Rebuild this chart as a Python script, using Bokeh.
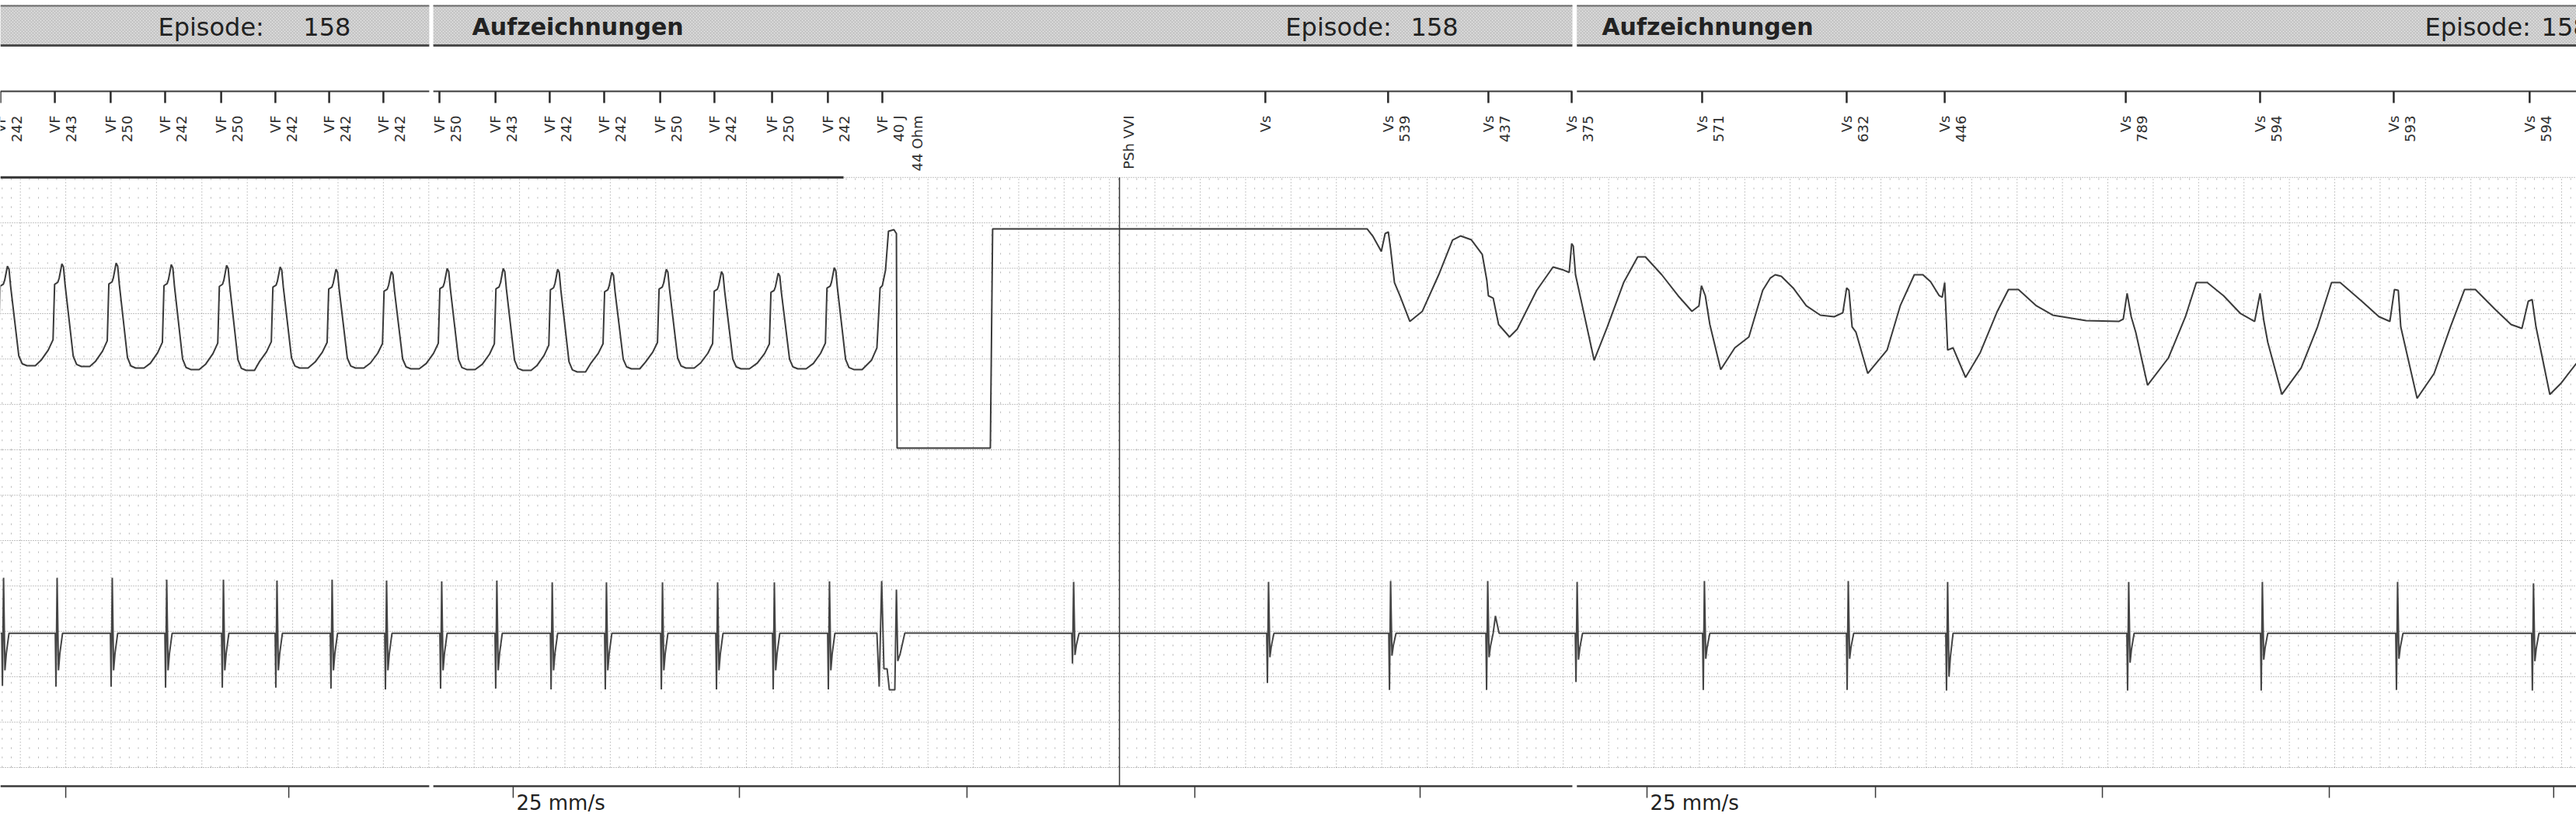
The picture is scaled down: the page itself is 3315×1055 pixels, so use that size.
import numpy as np
from bokeh.plotting import figure
from bokeh.models import Range1d
from bokeh.embed import file_html
from bokeh.resources import INLINE
from bokeh.core.properties import value

# ---------------- data (time in ms, amplitude in mm of paper, 25 mm/s) ----------------
strip_end_ms = 11353
page_segments = [(0, 1890), (1908, 6928), (6948, 11353)]   # printed pages, joined

header_label = "Episode:"
header_value = "158"
header_label_ms = [695, 5664, 10685]
header_value_ms = [1335, 6216, 11199]
section_title = "Aufzeichnungen"
section_title_ms = [2079, 7058]

# event markers
marker_t = [0, 240, 486, 726, 973, 1212, 1449, 1688, 1935, 2182, 2421, 2661, 2908,
            3147, 3401, 3647, 3887, 5575, 6116, 6558, 6925, 7500, 8137, 8569, 9367,
            9959, 10548, 11147]
marker_kind = ["VF"] * 17 + ["Vs"] * 11
marker_value = ["242", "243", "250", "242", "250", "242", "242", "242", "250", "243",
                "242", "242", "250", "242", "250", "242", "40 J", "", "539", "437",
                "375", "571", "632", "446", "789", "594", "593", "594"]
marker_note = [""] * 16 + ["44 Ohm"] + [""] * 11
pace_t = [4932]
pace_label = ["PSh VVI"]
episode_bar_ms = (0, 3716)

# channel 1 (far field EGM): VF beats
vf_beat_t = [31, 271, 510, 753, 997, 1233, 1479, 1723, 1969, 2216, 2456, 2695, 2935,
             3178, 3428, 3675]
vf_peak_mm = [55.22, 55.48, 55.57, 55.39, 55.31, 55.14, 54.88, 54.62, 54.97, 54.97,
              54.88, 54.54, 54.88, 54.62, 54.45, 55.05]
vf_trough_mm = [44.26, 44.18, 44.01, 43.84, 43.75, 44.01, 44.01, 43.92, 43.84, 43.75,
                43.58, 43.92, 44.01, 43.92, 43.92, 43.84]
vf_shape_dt = [-92, -60, -39, -32, -18, -12, 0, 7, 14, 31, 50, 65, 86, 123]
vf_shape_frac = [0.06, 0.16, 0.26, 0.80, 0.82, 0.86, 1.0, 0.97, 0.80, 0.47, 0.10, 0.02, 0.0, 0.0]

# channel 1: shock and post-shock rhythm
post_shock_trace = [
    (3839, 44.86), (3863, 46.23), (3877, 52.83), (3887, 53.08), (3901, 54.79), (3914, 59.08),
    (3938, 59.25), (3949, 58.82), (3952, 35.19), (4363, 35.19), (4373, 59.33), (6024, 59.33),
    (6048, 58.56), (6086, 56.85), (6103, 58.82), (6117, 58.99), (6127, 57.11), (6144, 53.42),
    (6168, 51.97), (6212, 49.14), (6267, 50.26), (6339, 54.28), (6400, 58.10), (6435, 58.56),
    (6483, 58.13), (6531, 56.51), (6551, 53.68), (6558, 51.97), (6579, 51.71), (6603, 48.80),
    (6651, 47.43), (6685, 48.29), (6771, 52.57), (6843, 55.14), (6890, 54.79), (6914, 54.54),
    (6925, 57.71), (6932, 57.45), (6942, 54.28), (7024, 44.86), (7082, 48.54), (7154, 53.42),
    (7216, 56.25), (7250, 56.25), (7322, 54.28), (7394, 51.97), (7455, 50.26), (7486, 50.86),
    (7497, 53.08), (7514, 51.97), (7534, 48.80), (7582, 43.84), (7644, 46.23), (7706, 47.43),
    (7767, 52.57), (7800, 53.90), (7822, 54.28), (7849, 54.11), (7901, 52.83), (7959, 50.86),
    (8021, 49.83), (8082, 49.66), (8120, 50.09), (8137, 52.83), (8147, 52.57), (8161, 48.54),
    (8178, 47.95), (8230, 43.41), (8315, 45.98), (8373, 50.86), (8435, 54.28), (8473, 54.28),
    (8507, 53.51), (8545, 51.97), (8558, 51.80), (8569, 53.42), (8582, 45.98), (8606, 46.23),
    (8661, 42.98), (8726, 45.72), (8801, 50.26), (8850, 52.65), (8894, 52.65), (8973, 50.86),
    (9045, 49.83), (9192, 49.23), (9336, 49.14), (9356, 49.40), (9373, 52.23), (9391, 49.66),
    (9411, 47.95), (9463, 42.12), (9555, 45.12), (9630, 49.66), (9678, 53.42), (9726, 53.42),
    (9798, 51.97), (9873, 50.00), (9935, 49.14), (9959, 52.23), (9976, 49.14), (9993, 46.83),
    (10055, 41.10), (10140, 44.01), (10212, 48.54), (10274, 53.42), (10312, 53.42),
    (10407, 51.37), (10483, 49.66), (10531, 49.14), (10551, 52.65), (10568, 52.57),
    (10579, 48.54), (10651, 40.67), (10726, 43.41), (10798, 48.54), (10860, 52.65),
    (10908, 52.65), (10993, 50.51), (11065, 48.80), (11113, 48.37), (11141, 51.37),
    (11158, 51.54), (11175, 48.54), (11236, 41.10), (11284, 42.29), (11353, 44.52),
]

# channel 2 (near field EGM)
ch2_baseline_mm = 14.8
ch2_spike_t = [14, 250, 493, 733, 983, 1219, 1462, 1702, 1945, 2188, 2432, 2671, 2918, 3161,
               3411, 3654, 4730, 5589, 6127, 6555, 6949, 7510, 8144, 8582, 9380, 9969, 10565, 11164]
ch2_top = [6.1, 6.1, 6.1, 5.9, 5.9, 5.8, 5.9, 5.8, 5.7, 5.8, 5.6, 5.6, 5.6, 5.6, 5.6, 5.7,
           5.65, 5.65, 5.74, 5.74, 5.65, 5.74, 5.74, 5.65, 5.65, 5.65, 5.65, 5.48]
ch2_bottom = [-5.8, -5.9, -5.9, -6.0, -6.0, -6.0, -6.1, -6.2, -6.1, -6.1, -6.2, -6.2, -6.2, -6.2,
              -6.2, -6.2, -3.34, -5.48, -6.25, -6.25, -5.39, -6.25, -6.25, -6.33, -6.33, -6.33,
              -6.25, -6.33]
ch2_loop = [-4.1, -4.1, -4.1, -4.1, -4.1, -4.1, -4.1, -4.1, -4.1, -4.1, -4.1, -4.1, -4.1, -4.1,
            -4.1, -4.1, -2.40, -2.65, -2.48, -2.65, -2.91, -2.82, -2.82, -4.79, -3.25, -2.91,
            -2.82, -3.08]
ch2_bump = [0, 0, 0, 0, 0, 0, 0, 0, 0, 0, 0, 0, 0, 0, 0, 0, 0, 0, 0, 1.9, 0, 0, 0, 0, 0, 0, 0, 0]
ch2_shock_trace = [(3863, 14.81), (3873, 8.90), (3884, 20.55), (3894, 10.87), (3908, 10.87),
                   (3918, 8.56), (3942, 8.56), (3949, 19.61), (3955, 11.73), (3966, 12.59),
                   (3986, 14.81)]

# time scale
second_ticks_ms = [288, 1271, 2260, 3257, 4260, 5264, 6257, 7257, 8264, 9264, 10264, 11253]
speed_label = "25 mm/s"
speed_label_ms = [2260, 7257]

# ---------------- build traces ----------------
ch1_x, ch1_y = [], []
for t, pk, tr in zip(vf_beat_t, vf_peak_mm, vf_trough_mm):
    for dt, f in zip(vf_shape_dt, vf_shape_frac):
        ch1_x.append(t + dt)
        ch1_y.append(tr + f * (pk - tr))
for t, v in post_shock_trace:
    ch1_x.append(t)
    ch1_y.append(v)

spike_dt = [-8, -5, 0, 6, 12, 24, 34, 50]
pts = [(0, ch2_baseline_mm), (strip_end_ms, ch2_baseline_mm)]
for t, top, bot, lp, bump in zip(ch2_spike_t, ch2_top, ch2_bottom, ch2_loop, ch2_bump):
    rel = [0, bot, top, lp, 0.55 * lp, 0, bump, 0]
    for dt, r in zip(spike_dt, rel):
        pts.append((t + dt, ch2_baseline_mm + r))
pts += ch2_shock_trace
pts.sort(key=lambda q: q[0])
ch2_x = [q[0] for q in pts]
ch2_y = [q[1] for q in pts]

# ---------------- layout constants ----------------
HDR_BOTTOM, HDR_TOP = 79.54, 84.0
HDR_TEXT_Y = 81.59
MARK_LINE_Y, MARK_TICK_END = 74.49, 73.20
LABEL_TOP_Y = 71.83
GRID_TOP, GRID_BOTTOM = 65.0, 0.0
AXIS_Y, AXIS_TICK_END = -2.05, -3.34
SPEED_Y = -2.57

TRACE = "#3a3a3a"
INK = "#222222"

p = figure(width=3315, height=1055,
           x_range=Range1d(0, strip_end_ms), y_range=Range1d(-5.822, 84.503),
           output_backend="svg", toolbar_location=None, min_border=0,
           x_axis_location=None, y_axis_location=None,
           background_fill_color="white", border_fill_color="white")
p.xgrid.visible = False
p.ygrid.visible = False
p.outline_line_color = None

# ---- paper grid ----
minor_x = [x for x in np.arange(8, strip_end_ms, 40) if (x - 88) % 200 != 0]
p.multi_line(xs=[[x, x] for x in minor_x], ys=[[GRID_BOTTOM, GRID_TOP]] * len(minor_x),
             line_color="#b3b3b3", line_width=1, line_dash="2 10")
major_x = list(np.arange(88, strip_end_ms, 200))
p.multi_line(xs=[[x, x] for x in major_x], ys=[[GRID_BOTTOM, GRID_TOP]] * len(major_x),
             line_color="#8e8e8e", line_width=1, line_dash="1 3")
major_y = list(np.arange(GRID_BOTTOM, GRID_TOP + 0.1, 5))
p.multi_line(xs=[[0, strip_end_ms]] * len(major_y), ys=[[y, y] for y in major_y],
             line_color="#858585", line_width=1, line_dash="1 2")

# ---- header band ----
seg_l = [s[0] for s in page_segments]
seg_r = [s[1] for s in page_segments]
p.quad(left=seg_l, right=seg_r, bottom=HDR_BOTTOM, top=HDR_TOP,
       fill_color="#dcdcdc", line_color=None,
       hatch_pattern="diagonal_cross", hatch_color="#b4b4b4", hatch_scale=4, hatch_weight=1)
p.segment(x0=seg_l, x1=seg_r, y0=HDR_BOTTOM, y1=HDR_BOTTOM, line_color="#4a4a4a", line_width=3)
p.segment(x0=seg_l, x1=seg_r, y0=83.9, y1=83.9, line_color="#6a6a6a", line_width=2)

p.text(x=header_label_ms, y=HDR_TEXT_Y, text=[header_label] * len(header_label_ms),
       text_align="left", text_baseline="middle", text_font=value("DejaVu Sans"),
       text_font_size="32px", text_color=INK)
p.text(x=header_value_ms, y=HDR_TEXT_Y, text=[header_value] * len(header_value_ms),
       text_align="left", text_baseline="middle", text_font=value("DejaVu Sans"),
       text_font_size="32px", text_color=INK)
p.text(x=section_title_ms, y=HDR_TEXT_Y, text=[section_title] * len(section_title_ms),
       text_align="left", text_baseline="middle", text_font=value("DejaVu Sans"),
       text_font_size="30px", text_font_style="bold", text_color=INK)

# ---- marker channel ----
p.segment(x0=seg_l, x1=seg_r, y0=MARK_LINE_Y, y1=MARK_LINE_Y, line_color="#3a3a3a", line_width=2)
p.segment(x0=marker_t, x1=marker_t, y0=MARK_LINE_Y, y1=MARK_TICK_END, line_color="#2a2a2a", line_width=2.5)
lab_kw = dict(angle=np.pi / 2, text_align="right", text_baseline="middle",
              text_font=value("DejaVu Sans"), text_font_size="18px", text_color="#2e2e2e")
p.text(x=marker_t, y=LABEL_TOP_Y, text=marker_kind, **lab_kw)
p.text(x=marker_t, y=LABEL_TOP_Y, text=marker_value, x_offset=21, **lab_kw)
p.text(x=marker_t, y=LABEL_TOP_Y, text=marker_note, x_offset=45, **lab_kw)
p.text(x=pace_t, y=LABEL_TOP_Y, text=pace_label, x_offset=12, **lab_kw)

# episode bar and pacing-change line
p.segment(x0=[episode_bar_ms[0]], x1=[episode_bar_ms[1]], y0=GRID_TOP, y1=GRID_TOP,
          line_color="#333333", line_width=3)
p.segment(x0=pace_t, x1=pace_t, y0=GRID_TOP, y1=AXIS_Y, line_color="#333333", line_width=1.5)

# ---- traces ----
p.line(ch1_x, ch1_y, line_color=TRACE, line_width=2)
p.line(ch2_x, ch2_y, line_color="#454545", line_width=2)

# ---- time scale ----
p.segment(x0=seg_l, x1=seg_r, y0=AXIS_Y, y1=AXIS_Y, line_color="#3a3a3a", line_width=2.5)
p.segment(x0=second_ticks_ms, x1=second_ticks_ms, y0=AXIS_Y, y1=AXIS_TICK_END,
          line_color="#3a3a3a", line_width=1.5)
p.text(x=speed_label_ms, y=SPEED_Y, text=[speed_label] * len(speed_label_ms), x_offset=4,
       text_align="left", text_baseline="top", text_font=value("DejaVu Sans"),
       text_font_size="26px", text_color=INK)

open("out.html", "w").write(file_html(p, INLINE, "Episode 158"))
